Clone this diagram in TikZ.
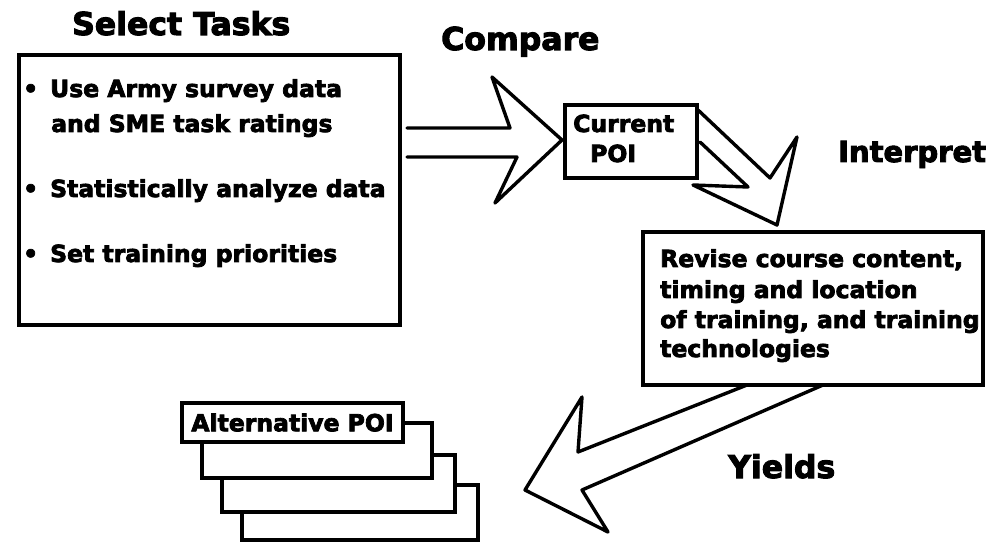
\documentclass[tikz,border=0pt]{standalone}
\usepackage{fontspec}
\newfontfamily\heavy{DejaVu Sans}[UprightFeatures={FakeBold=3.2}, BoldFeatures={FakeBold=3.2}]
\begin{document}
\begin{tikzpicture}[x=1pt,y=-1pt,
  frame/.style={draw, line width=3.4pt, fill=white, inner sep=0pt},
  blockarrow/.style={draw, line width=3.4pt, line join=round, line cap=round},
  heading/.style={anchor=base west, inner sep=0pt, font=\heavy\bfseries\fontsize{31.5}{31.5}\selectfont},
  body/.style={anchor=base west, inner sep=0pt, font=\heavy\bfseries\fontsize{23.5}{23.5}\selectfont}]
\useasboundingbox (0,0) rectangle (991,545);

% headings
\node[heading] (hselect) at (72,35) {Select Tasks};
\node[heading] (hcompare) at (441,50) {Compare};
\node[heading, font=\heavy\bfseries\fontsize{29}{29}\selectfont] (hinterp) at (838,162) {Interpret};
\node[heading] (hyields) at (728,478) {Yields};

% task selection box
\node[frame, minimum width=381pt, minimum height=270pt] (select) at (209.5,190) {};
\node[body] (s1) at (23,97) {\makebox[27pt][l]{•}Use Army survey data};
\node[body] (s1b) at (51,132) {and SME task ratings};
\node[body] (s2) at (23,197) {\makebox[27pt][l]{•}Statistically analyze data};
\node[body] (s3) at (23,262) {\makebox[27pt][l]{•}Set training priorities};

% current program of instruction
\node[frame, minimum width=132pt, minimum height=73pt] (current) at (631,141.5) {};
\node[body] (c1) at (573,132) {Current};
\node[body] (c2) at (590,162) {POI};

% revision box
\node[frame, minimum width=340pt, minimum height=153pt] (revise) at (813,308.5) {};
\node[body] (r1) at (660,267) {Revise course content,};
\node[body] (r2) at (660,298) {timing and location};
\node[body] (r3) at (660,328) {of training, and training};
\node[body] (r4) at (660,357) {technologies};

% stacked alternative POI sheets, back to front
\node[frame, minimum width=236pt, minimum height=55pt] (alt4) at (360,512.5) {};
\node[frame, minimum width=233pt, minimum height=57pt] (alt3) at (338.5,483.5) {};
\node[frame, minimum width=230pt, minimum height=55pt] (alt2) at (317,450.5) {};
\node[frame, minimum width=221pt, minimum height=39pt,
      font=\heavy\bfseries\fontsize{23.5}{23.5}\selectfont] (alt1) at (292.5,422.5) {Alternative POI};

% hollow block arrows
\draw[blockarrow] (407,128) -- (510,128) -- (492,77) -- (562,140)
  -- (495,203) -- (517,157) -- (407,157);
\draw[blockarrow] (698,110) -- (770,178) -- (797,137) -- (777,225)
  -- (693,185) -- (748,187) -- (700,142);
\draw[blockarrow] (747,385) -- (578,452) -- (582,397) -- (525,490)
  -- (608,532) -- (582,490) -- (823,385);
\end{tikzpicture}
\end{document}
